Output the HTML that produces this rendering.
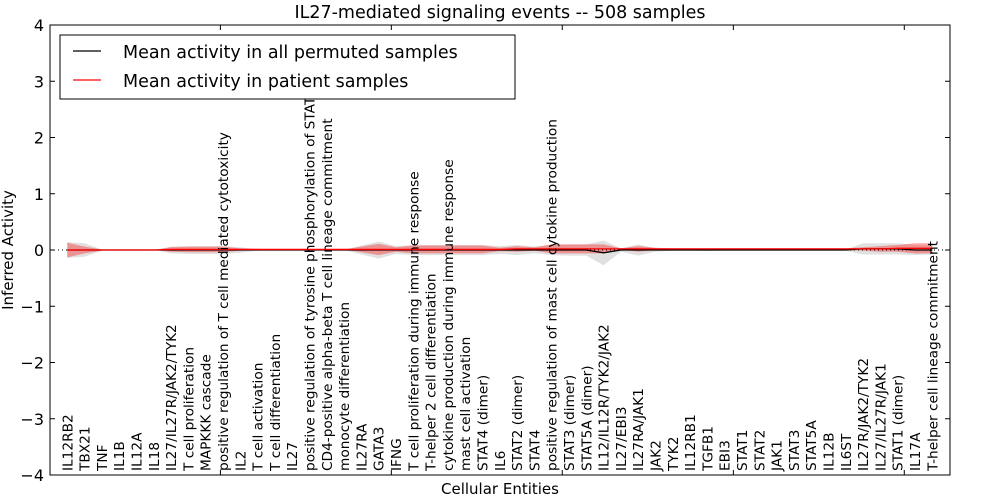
<!DOCTYPE html>
<html><head><meta charset="utf-8"><style>
body{margin:0;background:#fff;}
svg{display:block;font-family:"DejaVu Sans","Liberation Sans",sans-serif;}
</style></head><body>
<svg id="chart" width="1000" height="500"></svg>
<script>
const categories=["IL12RB2","TBX21","TNF","IL1B","IL12A","IL18","IL27/IL27R/JAK2/TYK2","T cell proliferation","MAPKKK cascade","positive regulation of T cell mediated cytotoxicity","IL2","T cell activation","T cell differentiation","IL27","positive regulation of tyrosine phosphorylation of STAT protein","CD4-positive alpha-beta T cell lineage commitment","monocyte differentiation","IL27RA","GATA3","IFNG","T cell proliferation during immune response","T-helper 2 cell differentiation","cytokine production during immune response","mast cell activation","STAT4 (dimer)","IL6","STAT2 (dimer)","STAT4","positive regulation of mast cell cytokine production","STAT3 (dimer)","STAT5A (dimer)","IL12/IL12R/TYK2/JAK2","IL27/EBI3","IL27RA/JAK1","JAK2","TYK2","IL12RB1","TGFB1","EBI3","STAT1","STAT2","JAK1","STAT3","STAT5A","IL12B","IL6ST","IL27R/JAK2/TYK2","IL27/IL27R/JAK1","STAT1 (dimer)","IL17A","T-helper cell lineage commitment"];
const permMean=[0,0,0,0,0,0,0,0,0,0,0,0,0,0,0,0,0,0,0,0,0,0,0,0,0,0,0,0,0,0,0,-0.05,0,0,0,0,0,0,0,0,0,0,0,0,0,0,0.02,0.02,0.02,0,0];
const permSpread=[0.14,0.12,0.01,0,0,0,0.06,0.07,0.07,0.07,0.05,0.01,0,0,0,0,0,0.08,0.15,0.07,0.09,0.09,0.09,0.09,0.09,0.07,0.09,0.06,0.09,0.1,0.1,0.22,0.03,0.1,0.03,0.01,0.01,0.02,0.01,0.01,0.01,0.01,0.01,0.01,0.01,0.01,0.1,0.1,0.1,0.09,0.08];
const patMean=[0,0,0,0,0,0,0.01,0.01,0.01,0.01,0.01,0.01,0.01,0.01,0.01,0.01,0.01,0.01,0.01,0.01,0.01,0.01,0.01,0.01,0.01,0.01,0.02,0.02,0.02,0.02,0.02,0.02,0.02,0.02,0.02,0.02,0.02,0.02,0.02,0.02,0.02,0.02,0.02,0.02,0.02,0.02,0.02,0.02,0.03,0.03,0.03];
const patSpread=[0.13,0.06,0.01,0,0,0,0.04,0.05,0.05,0.05,0.02,0.01,0,0,0,0,0,0.05,0.1,0.04,0.07,0.07,0.07,0.07,0.07,0.03,0.05,0.03,0.08,0.08,0.08,0.08,0.01,0.05,0.02,0.01,0.01,0.01,0.01,0.01,0.01,0.01,0.01,0.01,0.01,0.01,0.03,0.05,0.06,0.09,0.09];
const yTicks=[4,3,2,1,0,-1,-2,-3,-4];
const xTickVals=[8.85,18.73,28.61,38.5,48.38];

const L=50,R=950,T=25,B=475;
const xs=i=>L+17.3*(i+1);
const ys=v=>T+(4-v)*(B-T)/8;
const svg=document.getElementById('chart');
const NS='http://www.w3.org/2000/svg';
function mk(tag,attrs,parent){const e=document.createElementNS(NS,tag);for(const k in attrs)e.setAttribute(k,attrs[k]);(parent||svg).appendChild(e);return e;}

function band(mean,spread,fill,op,name){
  let top=mean.map((m,i)=>xs(i)+','+ys(m+spread[i]));
  let bot=mean.map((m,i)=>xs(i)+','+ys(m-spread[i])).reverse();
  const p=mk('polygon',{points:top.concat(bot).join(' '),fill:fill,'fill-opacity':op});
  
  
}
band(permMean,permSpread,'#bbbbbb',0.45,'permuted-band');
band(patMean,patSpread,'#ff0000',0.35,'patient-band');
const zl=mk('line',{x1:L,x2:R,y1:ys(0),y2:ys(0),stroke:'#000','stroke-dasharray':'1,3','stroke-width':1});


const pl=mk('polyline',{points:permMean.map((m,i)=>xs(i)+','+ys(m)).join(' '),fill:'none',stroke:'#000','stroke-width':1.3});


const rl=mk('polyline',{points:patMean.map((m,i)=>xs(i)+','+ys(m)).join(' '),fill:'none',stroke:'#ff0000','stroke-width':1.3});



categories.forEach((c,i)=>{
  const t=mk('text',{transform:`translate(${xs(i)+5},471) rotate(-90)`,'font-size':13.7,fill:'#000'});
  t.textContent=c;
  
  
});
const frame=mk('rect',{x:L,y:T,width:R-L,height:B-T,fill:'none',stroke:'#000','stroke-width':1});


yTicks.forEach(v=>{
  mk('line',{x1:L,x2:L+5,y1:ys(v),y2:ys(v),stroke:'#000'});
  mk('line',{x1:R,x2:R-5,y1:ys(v),y2:ys(v),stroke:'#000'});
  const t=mk('text',{x:L-6,y:ys(v)+6,'font-size':16,'text-anchor':'end'});
  t.textContent=v<0?'\u2212'+(-v):v;
  
  
});
xTickVals.forEach(v=>{
  mk('line',{x1:xs(v),x2:xs(v),y1:T,y2:T+5,stroke:'#000'});
  mk('line',{x1:xs(v),x2:xs(v),y1:B,y2:B-5,stroke:'#000'});
});
let t=mk('text',{x:500,y:18,'font-size':17.5,'text-anchor':'middle'});t.textContent='IL27-mediated signaling events -- 508 samples';


t=mk('text',{x:500,y:494,'font-size':15,'text-anchor':'middle'});t.textContent='Cellular Entities';


t=mk('text',{transform:'translate(13,250) rotate(-90)','font-size':15,'text-anchor':'middle'});t.textContent='Inferred Activity';


const lg=mk('g',{});


mk('rect',{x:60,y:35,width:455,height:64,fill:'#fff',stroke:'#000'},lg);
mk('line',{x1:73,x2:101,y1:51,y2:51,stroke:'#000','stroke-width':1.3},lg);
mk('line',{x1:73,x2:101,y1:80,y2:80,stroke:'#f00','stroke-width':1.3},lg);
t=mk('text',{x:123,y:58,'font-size':17.5},lg);t.textContent='Mean activity in all permuted samples';


t=mk('text',{x:123,y:87,'font-size':17.5},lg);t.textContent='Mean activity in patient samples';


</script>
</body></html>
